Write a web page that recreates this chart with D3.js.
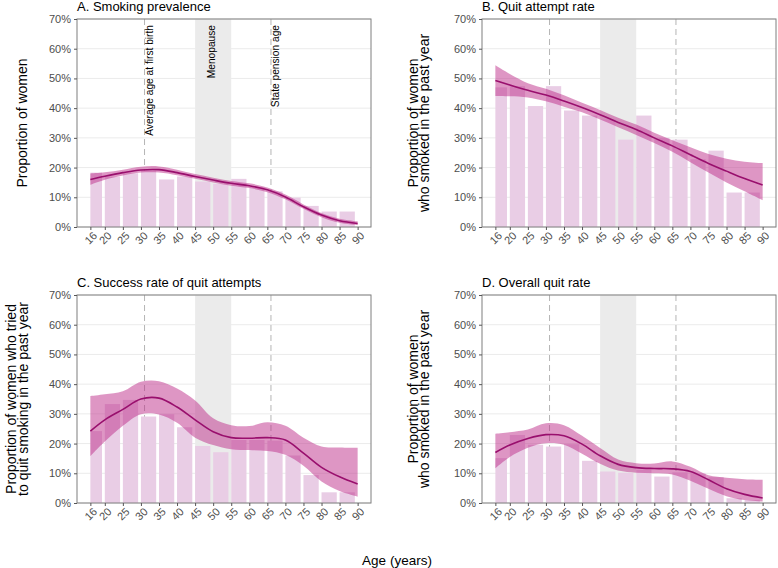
<!DOCTYPE html>
<html>
<head>
<meta charset="utf-8">
<script src="https://cdn.jsdelivr.net/npm/d3@7"></script>
<style>
  body { margin: 0; background: #fff; }
  svg { display: block; font-family: "Liberation Sans", Arial, sans-serif; }
</style>
</head>
<body>
<div id="chart"></div>
<script>
const barStart = [16, 20, 25, 30, 35, 40, 45, 50, 55, 60, 65, 70, 75, 80, 85];
const barEnd   = [20, 25, 30, 35, 40, 45, 50, 55, 60, 65, 70, 75, 80, 85, 90];
const fitAges  = [16, 20, 25, 30, 35, 40, 45, 50, 55, 60, 65, 70, 75, 80, 85, 90];
const xTicks   = [16, 20, 25, 30, 35, 40, 45, 50, 55, 60, 65, 70, 75, 80, 85, 90];
const yTicks   = [0, 10, 20, 30, 40, 50, 60, 70];

// Life events
const firstBirthAge = 31;
const pensionAge = 66;
const menopause = [45, 55];

// A. Smoking prevalence (%)
const prevBars  = [18.3, 16.9, 18.1, 19.0, 16.0, 17.0, 15.3, 14.5, 16.2, 13.5, 12.0, 9.9, 7.1, 5.2, 5.2];
const prevFit   = [16.0, 17.1, 18.3, 19.2, 19.3, 18.3, 17.0, 15.8, 14.7, 13.9, 12.5, 10.1, 6.8, 4.0, 2.1, 1.2];
const prevLower = [14.2, 15.9, 17.3, 18.3, 18.3, 17.4, 16.2, 15.0, 13.9, 13.1, 11.7, 9.3, 6.1, 3.3, 1.4, 0.6];
const prevUpper = [18.0, 18.4, 19.3, 20.3, 20.4, 19.3, 17.8, 16.6, 15.5, 14.7, 13.3, 10.9, 7.6, 4.7, 2.8, 1.9];

// B. Quit attempt rate (%)
const attBars  = [47.0, 47.4, 40.7, 47.4, 39.2, 37.5, 36.2, 29.4, 37.5, 30.0, 29.4, 22.8, 25.7, 11.6, 11.6];
const attFit   = [49.3, 47.8, 46.0, 44.4, 42.4, 40.2, 37.8, 35.2, 32.8, 30.0, 27.3, 24.3, 21.4, 18.8, 16.3, 14.1];
const attLower = [44.1, 44.0, 43.6, 42.3, 40.5, 38.6, 36.2, 33.6, 31.0, 28.3, 25.3, 21.8, 18.3, 15.0, 12.0, 9.0];
const attUpper = [54.4, 51.5, 48.4, 46.5, 44.3, 41.8, 39.4, 36.8, 34.5, 31.7, 29.2, 26.8, 24.6, 23.0, 22.0, 21.5];

// C. Success rate of quit attempts (%)
const sucBars  = [24.2, 33.3, 34.7, 29.1, 29.9, 25.5, 19.2, 17.1, 21.2, 21.2, 21.0, 16.0, 9.4, 3.6, 3.6];
const sucFit   = [24.2, 28.0, 31.5, 35.0, 35.3, 32.3, 28.0, 24.0, 22.0, 21.8, 22.0, 21.2, 16.8, 12.0, 8.8, 6.4];
const sucLower = [15.8, 20.7, 26.0, 29.9, 29.8, 27.0, 22.0, 19.5, 18.1, 17.8, 17.5, 16.2, 12.5, 7.2, 4.0, 2.1];
const sucUpper = [36.0, 36.6, 37.6, 40.8, 41.0, 38.5, 34.5, 28.5, 26.2, 25.9, 27.2, 26.0, 22.0, 19.0, 18.7, 18.6];

// D. Overall quit rate (%)
const quitBars  = [15.1, 22.9, 19.6, 19.0, 19.8, 14.2, 10.6, 10.2, 11.2, 8.9, 10.3, 10.0, 8.7, 1.6, 1.0];
const quitFit   = [17.0, 19.5, 21.7, 23.0, 22.6, 19.8, 15.9, 13.0, 11.9, 11.6, 11.5, 10.6, 7.8, 4.8, 2.9, 1.7];
const quitLower = [11.7, 15.5, 18.6, 20.1, 19.6, 16.6, 13.2, 10.9, 10.2, 10.0, 9.6, 7.5, 4.8, 2.3, 1.0, 0.5];
const quitUpper = [23.3, 23.8, 24.7, 26.8, 26.2, 22.6, 18.5, 14.6, 13.4, 13.3, 14.0, 12.2, 9.3, 8.5, 8.0, 7.8];

const WIDTH = 778, HEIGHT = 568;
const PW = 294, PH = 208;

const panels = [
  { title: "A. Smoking prevalence", ylab: ["Proportion of women"],
    left: 77, top: 19, ylabX: 22.5, labels: true,
    bars: prevBars, fit: prevFit, lower: prevLower, upper: prevUpper },
  { title: "B. Quit attempt rate", ylab: ["Proportion of women", "who smoked in the past year"],
    left: 482, top: 19, ylabX: 424.5, labels: false,
    bars: attBars, fit: attFit, lower: attLower, upper: attUpper },
  { title: "C. Success rate of quit attempts", ylab: ["Proportion of women who tried", "to quit smoking in the past year"],
    left: 77, top: 295, ylabX: 23, labels: false,
    bars: sucBars, fit: sucFit, lower: sucLower, upper: sucUpper },
  { title: "D. Overall quit rate", ylab: ["Proportion of women", "who smoked in the past year"],
    left: 482, top: 295, ylabX: 424.5, labels: false,
    bars: quitBars, fit: quitFit, lower: quitLower, upper: quitUpper }
];

const svg = d3.select("#chart").append("svg")
  .attr("width", WIDTH)
  .attr("height", HEIGHT);

// ggplot-like 5% expansion on the age axis
const x = d3.scaleLinear().domain([12.3, 93.7]).range([0, PW]);
const y = d3.scaleLinear().domain([0, 70]).range([PH, 0]);

panels.forEach(drawPanel);

// shared x title
svg.append("text")
  .attr("x", 397)
  .attr("y", 565)
  .attr("text-anchor", "middle")
  .attr("font-size", 13.5)
  .attr("fill", "#000")
  .text("Age (years)");

function drawPanel(p) {
  const g = svg.append("g").attr("transform", `translate(${p.left},${p.top})`);

  // horizontal grid
  g.append("g").selectAll("line")
    .data(yTicks)
    .join("line")
    .attr("x1", 0).attr("x2", PW)
    .attr("y1", d => y(d)).attr("y2", d => y(d))
    .attr("stroke", "#ebebeb")
    .attr("stroke-width", 1);

  // menopause band
  g.append("rect")
    .attr("x", x(menopause[0]))
    .attr("width", x(menopause[1]) - x(menopause[0]))
    .attr("y", 0)
    .attr("height", PH)
    .attr("fill", "#ebebeb");

  // first birth / pension age
  g.append("g").selectAll("line")
    .data([firstBirthAge, pensionAge])
    .join("line")
    .attr("x1", d => x(d)).attr("x2", d => x(d))
    .attr("y1", 0).attr("y2", PH)
    .attr("stroke", "#b5b5b5")
    .attr("stroke-width", 1)
    .attr("stroke-dasharray", "6,4");

  // bars by age group
  g.append("g").selectAll("rect")
    .data(p.bars)
    .join("rect")
    .attr("x", (d, i) => x(barStart[i]))
    .attr("width", (d, i) => x(barEnd[i]) - x(barStart[i]) - 2.8)
    .attr("y", d => y(d))
    .attr("height", d => PH - y(d))
    .attr("fill", "#e9cde5");

  const pts = fitAges.map((a, i) => ({ age: a, fit: p.fit[i], lo: p.lower[i], hi: p.upper[i] }));

  const area = d3.area()
    .x(d => x(d.age))
    .y0(d => y(d.lo))
    .y1(d => y(d.hi))
    .curve(d3.curveCatmullRom);

  g.append("path")
    .datum(pts)
    .attr("d", area)
    .attr("fill", "rgba(189,45,137,0.5)");

  const line = d3.line()
    .x(d => x(d.age))
    .y(d => y(d.fit))
    .curve(d3.curveCatmullRom);

  g.append("path")
    .datum(pts)
    .attr("d", line)
    .attr("fill", "none")
    .attr("stroke", "#990f6d")
    .attr("stroke-width", 1.6);

  // annotations (panel A only)
  if (p.labels) {
    const notes = [
      { text: "Average age at first birth", x: x(firstBirthAge) + 8.5 },
      { text: "Menopause", x: x((menopause[0] + menopause[1]) / 2) + 2 },
      { text: "State pension age", x: x(pensionAge) + 8.5 }
    ];
    g.append("g").selectAll("text")
      .data(notes)
      .join("text")
      .attr("transform", d => `translate(${d.x},6) rotate(-90)`)
      .attr("text-anchor", "end")
      .attr("font-size", 10.2)
      .attr("fill", "#000")
      .text(d => d.text);
  }

  // panel border
  g.append("rect")
    .attr("x", 0).attr("y", 0)
    .attr("width", PW).attr("height", PH)
    .attr("fill", "none")
    .attr("stroke", "#7f7f7f")
    .attr("stroke-width", 1);

  // y axis
  const ya = g.append("g")
    .call(d3.axisLeft(y).tickValues(yTicks).tickSize(3).tickPadding(3).tickFormat(d => d + "%"));
  ya.select(".domain").remove();
  ya.selectAll(".tick line").attr("stroke", "#555");
  ya.selectAll(".tick text")
    .attr("fill", "#4d4d4d")
    .attr("font-size", 11)
    .attr("font-family", "Liberation Sans, Arial, sans-serif");

  // x axis
  const xa = g.append("g")
    .attr("transform", `translate(0,${PH})`)
    .call(d3.axisBottom(x).tickValues(xTicks).tickSize(3).tickFormat(d => d));
  xa.select(".domain").remove();
  xa.selectAll(".tick line").attr("stroke", "#555");
  xa.selectAll(".tick text")
    .attr("y", 0)
    .attr("dy", "0.35em")
    .attr("text-anchor", "middle")
    .attr("transform", "translate(0,11) rotate(-45)")
    .attr("fill", "#4d4d4d")
    .attr("font-size", 11)
    .attr("font-family", "Liberation Sans, Arial, sans-serif");

  // title
  g.append("text")
    .attr("x", 0)
    .attr("y", -8.5)
    .attr("font-size", 13)
    .attr("fill", "#000")
    .text(p.title);

  // y title (last line sits closest to the axis)
  const n = p.ylab.length;
  g.append("g").selectAll("text")
    .data(p.ylab)
    .join("text")
    .attr("transform", (d, i) => `translate(${p.ylabX - p.left - (n - 1 - i) * 11.5},${PH / 2}) rotate(-90)`)
    .attr("text-anchor", "middle")
    .attr("dy", "0.35em")
    .attr("font-size", 14)
    .attr("fill", "#000")
    .text(d => d);
}
</script>
</body>
</html>
